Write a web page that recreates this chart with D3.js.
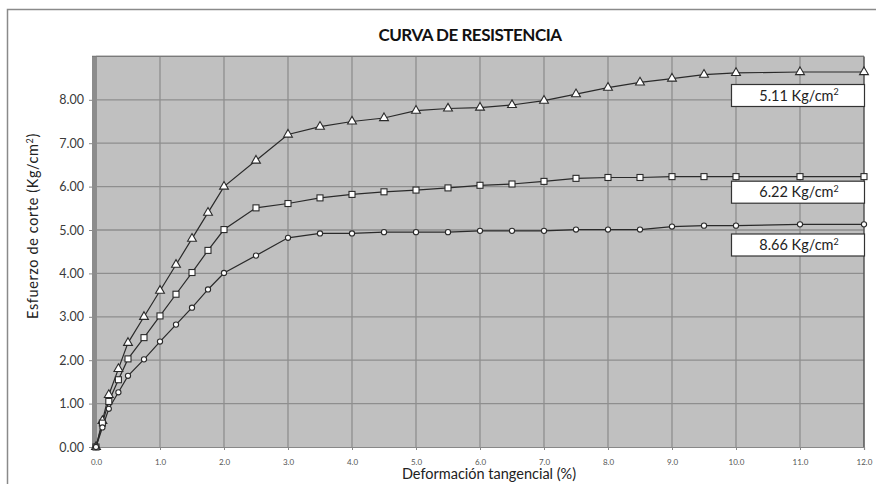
<!DOCTYPE html>
<html><head><meta charset="utf-8">
<script src="https://cdn.jsdelivr.net/npm/d3@7"></script>
<style>body{margin:0;background:#fff}svg{display:block}</style>
</head><body>
<script>
const xVals   = [0, 0.1, 0.2, 0.35, 0.5, 0.75, 1.0, 1.25, 1.5, 1.75, 2.0, 2.5, 3.0, 3.5, 4.0, 4.5, 5.0, 5.5, 6.0, 6.5, 7.0, 7.5, 8.0, 8.5, 9.0, 9.5, 10.0, 11.0, 12.0];
const s511 = [0, 0.60, 1.20, 1.80, 2.40, 3.00, 3.60, 4.20, 4.80, 5.40, 6.00, 6.60, 7.20, 7.38, 7.50, 7.58, 7.75, 7.80, 7.82, 7.88, 7.98, 8.13, 8.28, 8.40, 8.49, 8.58, 8.62, 8.64, 8.64];
const s622 = [0, 0.55, 1.05, 1.55, 2.03, 2.52, 3.02, 3.52, 4.02, 4.53, 5.01, 5.51, 5.61, 5.74, 5.82, 5.88, 5.92, 5.97, 6.03, 6.06, 6.12, 6.19, 6.21, 6.21, 6.23, 6.23, 6.23, 6.23, 6.23];
const s866 = [0, 0.45, 0.88, 1.26, 1.64, 2.02, 2.43, 2.82, 3.21, 3.63, 4.01, 4.41, 4.82, 4.92, 4.92, 4.95, 4.95, 4.95, 4.98, 4.98, 4.98, 5.01, 5.01, 5.01, 5.08, 5.10, 5.10, 5.13, 5.13];
const seriesLabels = ["5.11", "6.22", "8.66"];
const xTicks = [0,1,2,3,4,5,6,7,8,9,10,11,12];
const yTicks = [0,1,2,3,4,5,6,7,8];

const W = 876, H = 484;
const FONT = "Lato, 'Open Sans', sans-serif";
const svg = d3.select("body").append("svg").attr("width", W).attr("height", H);

// outer chart border
svg.append("path").attr("d", "M7.5,900 L7.5,9.5 L900,9.5").attr("fill","none").attr("stroke","#8a8a8a").attr("stroke-width",1.5);

const x = d3.scaleLinear().domain([0,12]).range([96,864]);
const y = d3.scaleLinear().domain([0,9]).range([447,56.4]);

// plot background
svg.append("rect").attr("x", x(0)).attr("y", y(9)).attr("width", x(12)-x(0)).attr("height", y(0)-y(9)).attr("fill","#c0c0c0");
// left wall shading
svg.append("rect").attr("x", x(0)-4).attr("y", y(9)).attr("width", 5).attr("height", y(0)-y(9)).attr("fill","#8c8c8c");

// grid
const grid = svg.append("g");
grid.selectAll("line.v").data(xTicks.slice(1,-1)).join("line")
  .attr("x1", d=>x(d)).attr("x2", d=>x(d)).attr("y1", y(9)).attr("y2", y(0))
  .attr("stroke","#8e8e8e").attr("stroke-width",1.3);
grid.selectAll("line.h").data(yTicks.slice(1).concat([9])).join("line")
  .attr("x1", x(0)).attr("x2", x(12)).attr("y1", d=>y(d)).attr("y2", d=>y(d))
  .attr("stroke","#8e8e8e").attr("stroke-width",1.3);
// top border
svg.append("line").attr("x1", x(0)-4).attr("x2", x(12)).attr("y1", y(9)).attr("y2", y(9)).attr("stroke","#7a7a7a").attr("stroke-width",1.2);
// right border
svg.append("line").attr("x1", x(12)).attr("x2", x(12)).attr("y1", y(9)).attr("y2", y(0)).attr("stroke","#555").attr("stroke-width",1.5);

// axes
const yAxis = svg.append("g").attr("transform", `translate(${x(0)-4},0)`)
  .call(d3.axisLeft(y).tickValues(yTicks).tickFormat(d3.format(".2f")).tickSize(3).tickPadding(5));
yAxis.select(".domain").remove();
yAxis.selectAll("line").attr("stroke","#888");
yAxis.selectAll("text").attr("font-family",FONT).attr("font-size",12.5).attr("fill","#3a3a3a");

const xAxis = svg.append("g").attr("transform", `translate(0,${y(0)})`)
  .call(d3.axisBottom(x).tickValues(xTicks).tickFormat(d3.format(".1f")).tickSize(3).tickPadding(9));
xAxis.select(".domain").attr("stroke","#888").attr("stroke-width",1.2);
xAxis.selectAll("line").attr("stroke","#888");
xAxis.selectAll("text").attr("font-family",FONT).attr("font-size",8).attr("fill","#555");

// series
const series = [
  {vals: s511, shape: "triangle"},
  {vals: s622, shape: "square"},
  {vals: s866, shape: "circle"}
];
const line = d3.line().x(d=>x(d[0])).y(d=>y(d[1]));
const plot = svg.append("g");
series.forEach(s => {
  const pts = xVals.map((v,i)=>[v, s.vals[i]]);
  plot.append("path").datum(pts).attr("d", line).attr("fill","none").attr("stroke","#2a2a2a").attr("stroke-width",1.2);
});
series.forEach(s => {
  const pts = xVals.map((v,i)=>[v, s.vals[i]]);
  const g = plot.append("g");
  if (s.shape === "triangle") {
    g.selectAll("path").data(pts).join("path")
      .attr("d", d3.symbol(d3.symbolTriangle, 34)())
      .attr("transform", d=>`translate(${x(d[0])},${y(d[1])})`)
      .attr("fill","#fff").attr("stroke","#2a2a2a").attr("stroke-width",1.1);
  } else if (s.shape === "square") {
    g.selectAll("rect").data(pts).join("rect")
      .attr("x", d=>x(d[0])-3).attr("y", d=>y(d[1])-3).attr("width",6).attr("height",6)
      .attr("fill","#fff").attr("stroke","#2a2a2a").attr("stroke-width",1.1);
  } else {
    g.selectAll("circle").data(pts).join("circle")
      .attr("cx", d=>x(d[0])).attr("cy", d=>y(d[1])).attr("r",2.6)
      .attr("fill","#fff").attr("stroke","#2a2a2a").attr("stroke-width",1.1);
  }
});

// labels boxes
const boxY = [84, 180.7, 233.5];
seriesLabels.forEach((lab,i) => {
  const g = svg.append("g").attr("transform", `translate(731,${boxY[i]})`);
  g.append("rect").attr("x",0.5).attr("y",0.5).attr("width",133).attr("height",22)
    .attr("fill","#fff").attr("stroke","#333").attr("stroke-width",1.2);
  const t = g.append("text").attr("x",68).attr("y",16.5).attr("text-anchor","middle")
    .attr("font-family",FONT).attr("font-size",14.5).attr("fill","#222");
  t.append("tspan").text(lab + " Kg/cm");
  t.append("tspan").attr("dy",-5.5).attr("font-size",9).text("2");
});

// title
svg.append("text").attr("x",470).attr("y",41).attr("text-anchor","middle")
  .attr("font-family",FONT).attr("font-weight","bold").attr("font-size",17)
  .attr("fill","#111").attr("letter-spacing",-0.5).text("CURVA DE RESISTENCIA");

// x axis title
svg.append("text").attr("x",489).attr("y",479).attr("text-anchor","middle")
  .attr("font-family",FONT).attr("font-size",14.5).attr("fill","#222")
  .text("Deformación tangencial (%)");

// y axis title
const yt = svg.append("text").attr("transform","translate(38,226) rotate(-90)").attr("text-anchor","middle")
  .attr("font-family",FONT).attr("font-size",14.5).attr("letter-spacing",0.6).attr("fill","#222");
yt.append("tspan").text("Esfuerzo de corte (Kg/cm");
yt.append("tspan").attr("dy",-5).attr("font-size",9).text("2");
yt.append("tspan").attr("dy",5).text(")");
</script>
</body></html>
